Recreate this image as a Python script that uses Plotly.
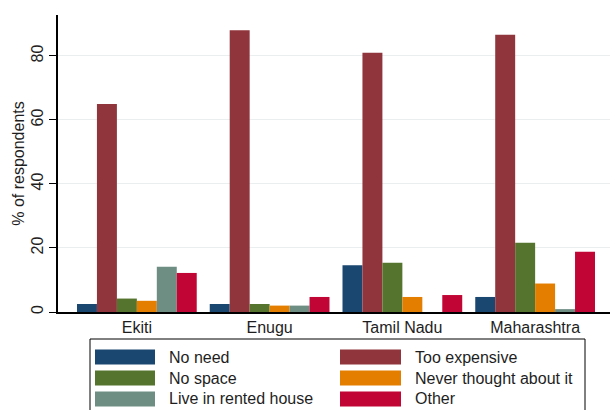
import plotly.graph_objects as go

# Survey results: reasons for not owning the item, by state
states = ["Ekiti", "Enugu", "Tamil Nadu", "Maharashtra"]
series_names = ["No need", "Too expensive", "No space",
                "Never thought about it", "Live in rented house", "Other"]
no_need = [2.5, 2.5, 14.6, 4.7]
too_expensive = [65.0, 88.0, 81.0, 86.6]
no_space = [4.2, 2.5, 15.4, 21.6]
never_thought = [3.5, 2.0, 4.7, 8.9]
rented_house = [14.1, 2.0, 0.0, 0.9]
other = [12.2, 4.7, 5.3, 18.8]
y_ticks = [0, 20, 40, 60, 80]

values = [no_need, too_expensive, no_space, never_thought, rented_house, other]
colors = ["#1a476f", "#90353b", "#55752f", "#e37e00", "#6e8e84", "#c10534"]

W, H = 610, 410
L, R, T, B = 58, 0, 15, 98
plot_w = W - L - R
plot_h = H - T - B


def px_x(x):
    return (x - L) / plot_w


def px_y(y):
    return (H - B - y) / plot_h


font = "Liberation Sans, Arial, sans-serif"
text_col = "#1e1e1e"
fs = 16

fig = go.Figure()
for name, vals, col in zip(series_names, values, colors):
    fig.add_trace(go.Bar(x=states, y=vals, name=name, marker_color=col,
                         marker_line_width=0, showlegend=False))

# Boxed two-column legend with wide swatches
shapes = [dict(type="rect", xref="paper", yref="paper",
               x0=px_x(90), x1=px_x(585), y0=px_y(440), y1=px_y(339),
               line=dict(color="black", width=1), fillcolor="white")]
annotations = []
row_y = [357, 378, 399]
sw_x = [(95, 155), (340, 401)]
txt_x = [167, 413]
for i, (name, col) in enumerate(zip(series_names, colors)):
    r, c = divmod(i, 2)
    yc = row_y[r]
    shapes.append(dict(type="rect", xref="paper", yref="paper",
                       x0=px_x(sw_x[c][0]), x1=px_x(sw_x[c][1]),
                       y0=px_y(yc + 7.5), y1=px_y(yc - 7.5),
                       line=dict(width=0), fillcolor=col))
    annotations.append(dict(xref="paper", yref="paper", x=px_x(txt_x[c]),
                            y=px_y(yc), text=name, showarrow=False,
                            xanchor="left", yanchor="middle",
                            font=dict(family=font, size=fs, color=text_col)))

fig.update_layout(
    width=W, height=H,
    margin=dict(l=L, r=R, t=T, b=B, pad=0),
    paper_bgcolor="white", plot_bgcolor="white",
    barmode="group", bargap=0.098, bargroupgap=0,
    font=dict(family=font, size=fs, color=text_col),
    shapes=shapes, annotations=annotations,
    xaxis=dict(type="category", range=[-0.594, 3.564], showline=True,
               linecolor="black", linewidth=1.5, ticks="", showgrid=False,
               tickfont=dict(size=fs, color=text_col)),
    yaxis=dict(range=[0, 92.8], tickvals=y_ticks, tickangle=-90,
               showline=True, linecolor="black", linewidth=1.5,
               ticks="outside", ticklen=7, tickcolor="black", tickwidth=1,
               showgrid=True, gridcolor="#eaeeee", gridwidth=1,
               zeroline=False, tickfont=dict(size=fs, color=text_col),
               title=dict(text="% of respondents", standoff=0,
                          font=dict(size=fs, color=text_col))),
)

fig.write_html("out.html")
